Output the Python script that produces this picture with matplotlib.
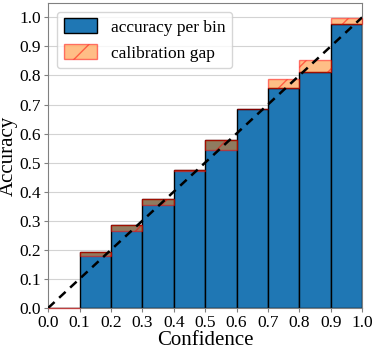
import numpy as np
import matplotlib
matplotlib.use('Agg')
from matplotlib import pyplot as plt

plt.rcParams['font.family'] = ['Liberation Serif', 'DejaVu Serif']

# bin lower edges, accuracy and mean confidence per bin
bin_edges = [0.0, 0.1, 0.2, 0.3, 0.4, 0.5, 0.6, 0.7, 0.8, 0.9]
accuracy = [0.0, 0.193, 0.287, 0.375, 0.474, 0.577, 0.686, 0.758, 0.812, 0.978]
confidence = [0.0, 0.180, 0.266, 0.354, 0.470, 0.543, 0.684, 0.789, 0.852, 0.997]


def plot_reliability(edges, accs, confs):
    gaps = np.array(confs) - np.array(accs)

    fig = plt.figure(figsize=(3.76, 3.54), dpi=100)
    ax = fig.add_axes([0.128, 0.130, 0.835, 0.862])

    ax.bar(edges, accs, width=0.1, align='edge', color='#1f77b4',
           edgecolor='black', linewidth=1, label='accuracy per bin', zorder=2)
    ax.bar(edges, gaps, bottom=accs, width=0.1, align='edge', color='#ff7f0e',
           alpha=0.5, edgecolor='r', hatch='/', linewidth=1,
           label='calibration gap', zorder=3, clip_on=False)
    ax.plot([0, 1], [0, 1], 'k--', linewidth=1.8, dashes=(3.5, 2.5), zorder=4)

    ax.set_xlim(0, 1)
    ax.set_ylim(0, 1.05)
    ax.set_xticks(np.arange(0, 1.01, 0.1))
    ax.set_yticks(np.arange(0, 1.01, 0.1))
    ax.tick_params(labelsize=12.5, length=3, color='gray', pad=2)
    ax.grid(axis='y', color='lightgray', linewidth=0.8)
    ax.set_axisbelow(True)
    for spine in ax.spines.values():
        spine.set_color('gray')

    ax.set_xlabel('Confidence', fontsize=15, labelpad=0)
    ax.set_ylabel('Accuracy', fontsize=15, labelpad=1)
    ax.legend(loc='upper left', fontsize=12.5, handlelength=1.9,
              handleheight=0.9, borderaxespad=0.5)

    fig.savefig('out.png', dpi=100)


plot_reliability(bin_edges, accuracy, confidence)
